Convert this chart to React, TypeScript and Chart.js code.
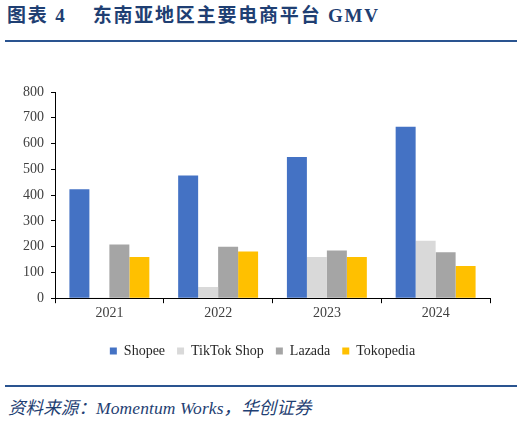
import React, { useEffect, useRef } from "react";
import { Chart, registerables } from "chart.js";

Chart.register(...registerables);

const categories = ["2021", "2022", "2023", "2024"];
const shopee = [423, 476, 548, 665];
const tiktokShop = [3, 43, 160, 223];
const lazada = [208, 200, 185, 178];
const tokopedia = [160, 181, 160, 125];
const seriesNames = ["Shopee", "TikTok Shop", "Lazada", "Tokopedia"];
const seriesColors = ["#4472C4", "#D9D9D9", "#A5A5A5", "#FFC000"];
const yMax = 800;
const yStep = 100;

const titleText = "图表 4\u00a0\u00a0\u00a0\u00a0东南亚地区主要电商平台 GMV";
const sourceText = "资料来源：Momentum Works，华创证券";

const serif = "'Liberation Serif', 'Times New Roman', serif";
const navy = "#1F3F73";

export default function App() {
  const ref = useRef<HTMLCanvasElement | null>(null);

  useEffect(() => {
    if (!ref.current) return;
    const values = [shopee, tiktokShop, lazada, tokopedia];
    const chart = new Chart(ref.current, {
      type: "bar",
      data: {
        labels: categories,
        datasets: values.map((d, i) => ({
          label: seriesNames[i],
          data: d,
          backgroundColor: seriesColors[i],
          borderWidth: 0,
          categoryPercentage: 0.735,
          barPercentage: 1.0,
          yAxisID: "y",
        })),
      },
      options: {
        animation: false,
        responsive: false,
        maintainAspectRatio: false,
        devicePixelRatio: 1,
        layout: { padding: { left: 20, right: 19, top: 22, bottom: 2 } },
        plugins: {
          tooltip: { enabled: false },
          legend: {
            position: "bottom",
            labels: {
              boxWidth: 7,
              boxHeight: 7,
              padding: 12,
              color: "#262626",
              font: { family: serif, size: 14 },
            },
          },
        },
        scales: {
          x: {
            afterFit: (s: any) => {
              s.height += 8;
            },
            grid: {
              offset: true,
              drawOnChartArea: false,
              drawTicks: true,
              tickLength: 5,
              color: "#000",
            },
            border: { color: "#000", width: 1 },
            ticks: {
              color: "#404040",
              font: { family: serif, size: 14 },
              padding: 2,
            },
          },
          y: {
            min: 0,
            max: yMax,
            afterFit: (s: any) => {
              s.width = 35;
            },
            grid: {
              drawOnChartArea: false,
              drawTicks: true,
              tickLength: 4,
              color: "#000",
            },
            border: { color: "#000", width: 1 },
            ticks: {
              stepSize: yStep,
              color: "#404040",
              font: { family: serif, size: 14 },
              padding: 7,
            },
          },
          spacer: {
            type: "linear",
            position: "right",
            display: true,
            afterFit: (s: any) => {
              s.width = 15;
            },
            grid: { display: false, drawTicks: false },
            border: { display: false },
            ticks: { display: false },
          },
        },
      },
    });
    return () => chart.destroy();
  }, []);

  return (
    <div
      style={{
        position: "absolute",
        left: 0,
        top: 0,
        width: 524,
        height: 421,
        background: "#fff",
        overflow: "hidden",
      }}
    >
      <div
        style={{
          position: "absolute",
          left: 7,
          top: 4,
          fontFamily: "'Liberation Serif', 'Noto Sans CJK SC', serif",
          fontWeight: "bold",
          fontSize: 19,
          letterSpacing: 1.8,
          color: navy,
          whiteSpace: "pre",
          lineHeight: "24px",
        }}
      >
        {titleText}
      </div>
      <div
        style={{
          position: "absolute",
          left: 5,
          top: 40,
          width: 512,
          height: 2,
          background: "#2A5490",
        }}
      />
      <div style={{ position: "absolute", left: 0, top: 70, width: 524, height: 300 }}>
        <canvas ref={ref} width={524} height={300} style={{ width: 524, height: 300 }} />
      </div>
      <div
        style={{
          position: "absolute",
          left: 5,
          top: 385,
          width: 512,
          height: 2,
          background: "#2A5490",
        }}
      />
      <div
        style={{
          position: "absolute",
          left: 8,
          top: 396,
          fontFamily: "'Liberation Serif', 'Noto Sans CJK SC', serif",
          fontStyle: "italic",
          fontSize: 17.5,
          letterSpacing: 0.1,
          color: navy,
          whiteSpace: "pre",
          lineHeight: "24px",
        }}
      >
        {sourceText}
      </div>
    </div>
  );
}
